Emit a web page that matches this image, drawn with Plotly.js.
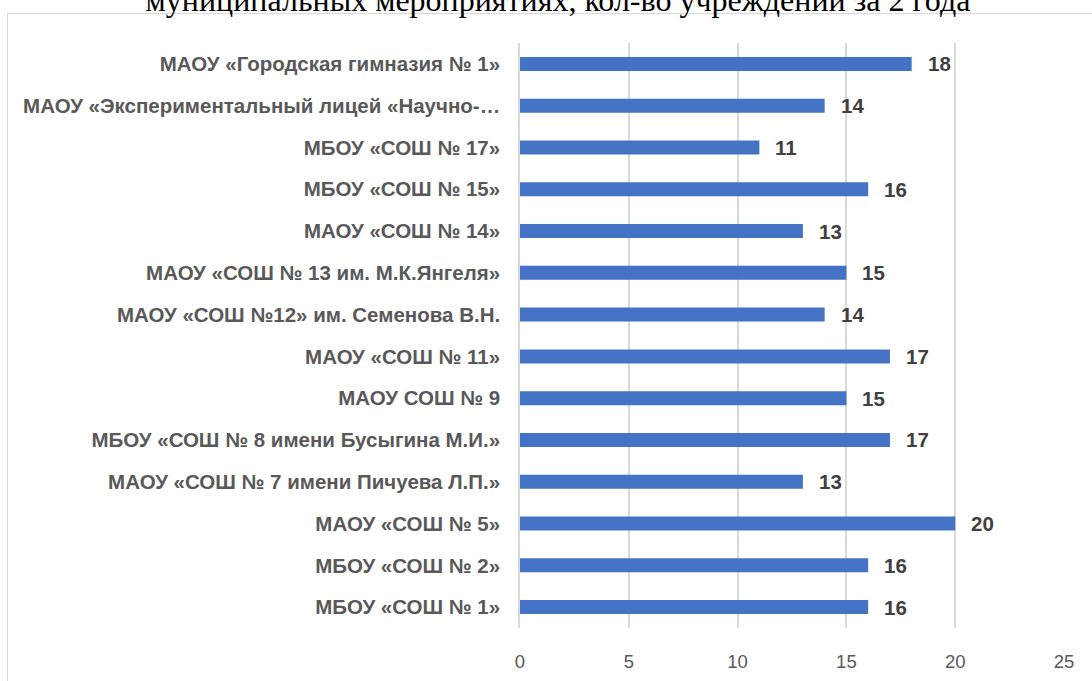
<!DOCTYPE html>
<html>
<head>
<meta charset="utf-8">
<script src="https://cdn.plot.ly/plotly-3.0.1.min.js"></script>
<style>
  html, body { margin: 0; padding: 0; background: #fff; overflow: hidden; }
  #frame { position: absolute; left: 7px; top: 13px; width: 1200px; height: 800px;
           border: 1.5px solid #d9d9d9; box-sizing: border-box; }
  #chart { position: absolute; left: 0; top: 0; width: 1092px; height: 681px; }
</style>
</head>
<body>
<div id="frame"></div>
<div id="chart"></div>
<script>
// Categories listed bottom-to-top as they appear on the axis
const categories = [
  "МБОУ «СОШ № 1»",
  "МБОУ «СОШ № 2»",
  "МАОУ «СОШ № 5»",
  "МАОУ «СОШ № 7 имени Пичуева Л.П.»",
  "МБОУ «СОШ № 8 имени Бусыгина М.И.»",
  "МАОУ СОШ № 9",
  "МАОУ «СОШ № 11»",
  "МАОУ «СОШ №12» им. Семенова В.Н.",
  "МАОУ «СОШ № 13 им. М.К.Янгеля»",
  "МАОУ «СОШ № 14»",
  "МБОУ «СОШ № 15»",
  "МБОУ «СОШ № 17»",
  "МАОУ «Экспериментальный лицей «Научно-…",
  "МАОУ «Городская гимназия № 1»"
];
const values = [16, 16, 20, 13, 17, 15, 17, 14, 15, 13, 16, 11, 14, 18];
const xTicks = [0, 5, 10, 15, 20, 25];
const titleText = "муниципальных мероприятиях, кол-во учреждений за 2 года";

const trace = {
  type: "bar",
  orientation: "h",
  x: values,
  y: categories,
  marker: { color: "#4472c4" },
  hoverinfo: "x+y"
};

const annotations = values.map((v, i) => ({
  x: v, y: categories[i], xref: "x", yref: "y",
  text: String(v), showarrow: false,
  xanchor: "left", yanchor: "middle", xshift: 14, yshift: 0,
  font: { family: "Liberation Sans, Arial, sans-serif", size: 20.5, color: "#404040", weight: "bold" }
}));

const layout = {
  width: 1092, height: 681,
  margin: { l: 520, r: 28, t: 43, b: 53 },
  paper_bgcolor: "rgba(0,0,0,0)",
  plot_bgcolor: "rgba(0,0,0,0)",
  bargap: 0.665,
  showlegend: false,
  title: {
    text: titleText,
    x: 558 / 1092, xanchor: "center", xref: "container",
    y: 1 - 11 / 681, yanchor: "bottom", yref: "container",
    font: { family: "Liberation Serif, Times New Roman, serif", size: 32, color: "#000000" }
  },
  xaxis: {
    range: [0, 25],
    tickvals: xTicks,
    ticktext: xTicks.map(String),
    showgrid: true, gridcolor: "#d9d9d9", gridwidth: 1.5,
    zeroline: false, showline: false, ticks: "",
    tickfont: { family: "Liberation Sans, Arial, sans-serif", size: 18.5, color: "#595959" },
    ticklabelstandoff: 20,
    fixedrange: true
  },
  yaxis: {
    type: "category",
    categoryorder: "array", categoryarray: categories,
    showgrid: false, zeroline: false, ticks: "",
    showline: true, linecolor: "#d9d9d9", linewidth: 1.5,
    tickfont: { family: "Liberation Sans, Arial, sans-serif", size: 20.5, color: "#595959", weight: "bold" },
    ticklabelstandoff: 14,
    fixedrange: true
  },
  annotations: annotations
};

Plotly.newPlot("chart", [trace], layout, { displayModeBar: false, staticPlot: false });
</script>
</body>
</html>
